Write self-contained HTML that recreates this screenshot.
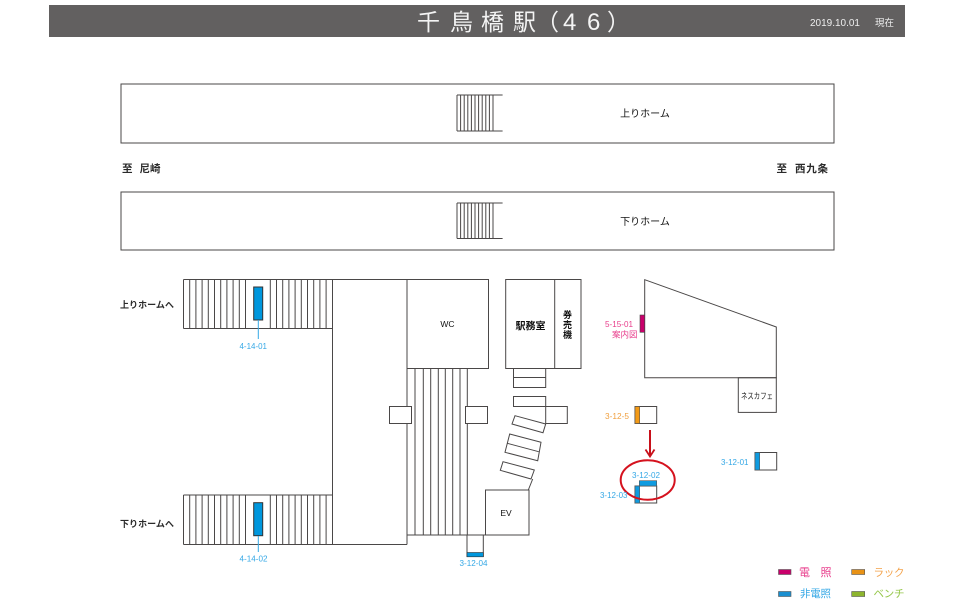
<!DOCTYPE html>
<html lang="ja"><head><meta charset="utf-8"><title>千鳥橋駅</title>
<style>
html,body{margin:0;padding:0;background:#fff;width:960px;height:605px;overflow:hidden}
svg{display:block;filter:blur(.35px)}
text{font-family:"Liberation Sans","Noto Sans CJK JP",sans-serif}
.l{fill:none;stroke:#4a4747;stroke-width:1}
.b{fill:#fff;stroke:#4a4747;stroke-width:1}
.t{fill:#111;font-size:9px;text-anchor:middle}
.k{fill:#2a2a2a;font-size:10.5px;font-weight:bold}
.c{fill:#35a8e6;font-size:8.5px}
</style></head><body>
<svg width="960" height="605" viewBox="0 0 960 605" xmlns="http://www.w3.org/2000/svg">
<rect x="49" y="5" width="856" height="32" fill="#626060"/>
<text x="417" y="30" fill="#f4f4f4" style="font-size:23px">千</text>
<text x="450" y="30" fill="#f4f4f4" style="font-size:23px">鳥</text>
<text x="481" y="30" fill="#f4f4f4" style="font-size:23px">橋</text>
<text x="513" y="30" fill="#f4f4f4" style="font-size:23px">駅</text>
<text x="536" y="30" fill="#f4f4f4" style="font-size:23px">（</text>
<text x="563" y="30" fill="#f4f4f4" style="font-size:24px">4</text>
<text x="587" y="30" fill="#f4f4f4" style="font-size:24px">6</text>
<text x="607" y="30" fill="#f4f4f4" style="font-size:23px">）</text>
<text x="810" y="26" textLength="50" lengthAdjust="spacingAndGlyphs" fill="#eee" style="font-size:10.5px">2019.10.01</text>
<text x="875" y="26" textLength="19" fill="#eee" style="font-size:9.5px">現在</text>

<rect class="l" x="121" y="84" width="713" height="59"/>
<rect class="l" x="121" y="192" width="713" height="58"/>
<path class="l" d="M457 95H502.6M457 131H502.6M457 95V131M460.6 95V131M464.2 95V131M467.8 95V131M471.4 95V131M475 95V131M478.6 95V131M482.2 95V131M485.8 95V131M489.4 95V131M493 95V131"/>
<path class="l" d="M457 203H502.6M457 238.500H502.6M457 203V238.500M460.600 203V238.500M464.200 203V238.500M467.800 203V238.500M471.400 203V238.500M475 203V238.500M478.600 203V238.500M482.200 203V238.500M485.800 203V238.500M489.400 203V238.500M493 203V238.500"/>
<text x="645" y="117" class="t" style="font-size:10px">上りホーム</text>
<text x="645" y="225" class="t" style="font-size:10px">下りホーム</text>
<text x="122" y="172" class="k">至</text>
<text x="139.500" y="172" class="k">尼崎</text>
<text x="776.500" y="172" class="k">至</text>
<text x="795" y="172" class="k" textLength="33">西九条</text>

<path class="l" d="M183.500 279.500H489M183.500 328.500H332.500M183.500 495H332.500M183.500 544.500H407M332.500 279.500V544.500M407 279.500V544.500M183.500 279.500V328.500M183.500 495V544.500"/>
<path class="l" d="M189.700 279.500V328.500M195.900 279.500V328.500M202.100 279.500V328.500M208.300 279.500V328.500M214.500 279.500V328.500M220.700 279.500V328.500M226.900 279.500V328.500M233.100 279.500V328.500M239.300 279.500V328.500M245.500 279.500V328.500M270.300 279.500V328.500M276.500 279.500V328.500M282.700 279.500V328.500M288.900 279.500V328.500M295.100 279.500V328.500M301.300 279.500V328.500M307.500 279.500V328.500M313.700 279.500V328.500M319.900 279.500V328.500M326.100 279.500V328.500"/>
<path class="l" d="M189.700 495V544.500M195.900 495V544.500M202.100 495V544.500M208.300 495V544.500M214.500 495V544.500M220.700 495V544.500M226.900 495V544.500M233.100 495V544.500M239.300 495V544.500M245.500 495V544.500M270.300 495V544.500M276.500 495V544.500M282.700 495V544.500M288.900 495V544.500M295.100 495V544.500M301.300 495V544.500M307.500 495V544.500M313.700 495V544.500M319.900 495V544.500M326.100 495V544.500"/>
<rect x="253.700" y="287" width="9" height="33" fill="#0097dd" stroke="#333" stroke-width="1"/>
<rect x="253.700" y="502.700" width="9" height="33" fill="#0097dd" stroke="#333" stroke-width="1"/>
<path d="M258.300 320V339M258.300 536V552" stroke="#35a8e6" stroke-width="1" fill="none"/>
<text x="239.500" y="349" class="c" textLength="27.500" lengthAdjust="spacingAndGlyphs">4-14-01</text>
<text x="239.500" y="561.500" class="c" textLength="28" lengthAdjust="spacingAndGlyphs">4-14-02</text>
<text x="120" y="308" class="k" textLength="54" style="font-size:9px">上りホームへ</text>
<text x="120" y="527" class="k" textLength="54" style="font-size:9px">下りホームへ</text>

<rect class="l" x="407" y="279.500" width="81.500" height="89"/>
<text x="447.500" y="327" class="t" style="font-size:8.500px">WC</text>
<path class="l" d="M407 368.500V535M415 368.500V535M423.300 368.500V535M430.700 368.500V535M438.300 368.500V535M445.300 368.500V535M452.700 368.500V535M460 368.500V535M467.300 368.500V535M407 535H529"/>
<rect class="b" x="389.500" y="406.500" width="22" height="17"/>
<rect class="b" x="465.500" y="406.500" width="22" height="17"/>
<rect class="l" x="545.700" y="406.500" width="21.600" height="17"/>
<rect class="l" x="505.700" y="279.500" width="75.300" height="89"/>
<path class="l" d="M554.700 279.500V368.500"/>
<text x="530.500" y="329.500" class="t" style="font-size:10px;font-weight:bold">駅務室</text>
<text x="567.500" y="318" class="t" style="font-size:9px;font-weight:bold">券</text>
<text x="567.500" y="328" class="t" style="font-size:9px;font-weight:bold">売</text>
<text x="567.500" y="338" class="t" style="font-size:9px;font-weight:bold">機</text>
<path class="l" d="M513.500 368.500V387.500H545.700V368.500M513.500 377.500H545.700"/>
<rect class="l" x="513.500" y="396.500" width="32.200" height="10"/>
<path class="l" d="M515 415.700L545.700 424L543 432.700L512 424Z"/>
<path class="l" d="M509.700 434L541 442.300L537.700 460.700L505 452.300ZM507.300 443.300L538.700 451.700"/>
<path class="l" d="M503 461.700L534.300 470L531 479L500.300 470.300ZM532.700 479L528.300 490"/>
<rect class="b" x="485.500" y="490" width="43.500" height="45"/>
<text x="506" y="516" class="t" style="font-size:8.500px">EV</text>
<path class="l" d="M467 535V556.500H483.300V535"/>
<rect x="467" y="552.500" width="16.300" height="4.300" fill="#0097dd" stroke="#333" stroke-width=".6"/>
<text x="459.500" y="566" class="c" textLength="28" lengthAdjust="spacingAndGlyphs">3-12-04</text>

<path class="l" d="M644.700 279.700L776.300 327V377.700H644.700Z"/>
<rect x="640" y="315" width="4.700" height="17.300" fill="#c9006b" stroke="#444" stroke-width=".6"/>
<text x="605" y="327" textLength="28" lengthAdjust="spacingAndGlyphs" style="font-size:8.500px" fill="#e83e8c">5-15-01</text>
<text x="612" y="337.500" textLength="25.500" style="font-size:8.500px" fill="#e83e8c">案内図</text>
<rect class="l" x="738.300" y="377.700" width="38" height="34.700"/>
<text x="741" y="399" textLength="32" lengthAdjust="spacingAndGlyphs" style="font-size:8.500px" fill="#222">ネスカフェ</text>

<rect class="b" x="635" y="406.500" width="21.700" height="17"/>
<rect x="635" y="406.500" width="4.700" height="17" fill="#f39a16" stroke="#555" stroke-width=".6"/>
<text x="605" y="419" textLength="24" lengthAdjust="spacingAndGlyphs" style="font-size:8.500px" fill="#f0a040">3-12-5</text>

<path d="M650 430V455" stroke="#c8101a" stroke-width="2" fill="none"/>
<path d="M645.500 449.500L650 456.500L654.500 449.500" stroke="#c8101a" stroke-width="1.800" fill="none"/>

<rect class="b" x="635" y="486" width="21.700" height="17"/>
<rect x="639.300" y="480.700" width="17.400" height="5.300" fill="#0f9be0" stroke="#555" stroke-width=".6"/>
<rect x="635" y="486" width="4.700" height="17" fill="#0f9be0" stroke="#555" stroke-width=".6"/>
<ellipse cx="647.700" cy="480" rx="27" ry="19.700" fill="none" stroke="#d5121e" stroke-width="2"/>
<text x="632" y="478" class="c" textLength="28" lengthAdjust="spacingAndGlyphs">3-12-02</text>
<text x="600" y="498" class="c" textLength="27.500" lengthAdjust="spacingAndGlyphs">3-12-03</text>

<rect class="b" x="755" y="452.500" width="21.700" height="17.500"/>
<rect x="755" y="452.500" width="4.700" height="17.500" fill="#0f9be0" stroke="#555" stroke-width=".6"/>
<text x="721" y="465" class="c" textLength="27.500" lengthAdjust="spacingAndGlyphs">3-12-01</text>

<rect x="778.500" y="569.500" width="12.500" height="5" fill="#c9006b" stroke="#555" stroke-width=".6"/>
<rect x="851.700" y="569.500" width="13" height="5" fill="#e89216" stroke="#555" stroke-width=".6"/>
<rect x="778.500" y="591.500" width="12.500" height="5" fill="#1a8fd0" stroke="#555" stroke-width=".6"/>
<rect x="851.700" y="591.500" width="13" height="5" fill="#8db52e" stroke="#555" stroke-width=".6"/>
<text x="799" y="576" fill="#e83e8c" style="font-size:11px">電</text>
<text x="820.500" y="576" fill="#e83e8c" style="font-size:11px">照</text>
<text x="873.500" y="576" textLength="31" fill="#f3a24a" style="font-size:10.500px">ラック</text>
<text x="800" y="597" textLength="31" fill="#35a8e6" style="font-size:10.500px">非電照</text>
<text x="873.500" y="597" textLength="31" fill="#94c648" style="font-size:10.500px">ベンチ</text>
</svg>
</body></html>
